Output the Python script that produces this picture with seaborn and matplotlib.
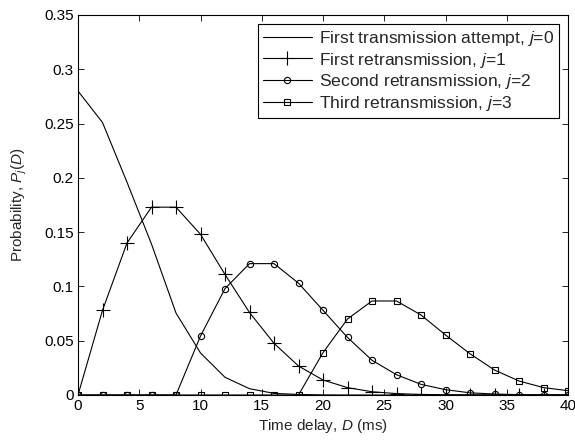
import numpy as np
import pandas as pd
import matplotlib
matplotlib.use("Agg")
import matplotlib.pyplot as plt
import seaborn as sns
from matplotlib.ticker import FuncFormatter

delay = [0, 2, 4, 6, 8, 10, 12, 14, 16, 18, 20, 22, 24, 26, 28, 30, 32, 34, 36, 38, 40]
p_j0 = [0.280, 0.251, 0.196, 0.139, 0.0755, 0.0387, 0.0163, 0.0058, 0.0015, 0.0005, 0.0001,
        0, 0, 0, 0, 0, 0, 0, 0, 0, 0]
p_j1 = [0.0, 0.078, 0.140, 0.173, 0.173, 0.148, 0.111, 0.076, 0.0476, 0.0267, 0.0138,
        0.0068, 0.003, 0.0013, 0.0005, 0.0002, 0.0001, 0, 0, 0, 0]
p_j2 = [0, 0, 0, 0, 0, 0.0543, 0.098, 0.121, 0.121, 0.103, 0.078, 0.053, 0.032, 0.0187,
        0.0098, 0.0049, 0.002, 0.0009, 0.0003, 0.0001, 0]
p_j3 = [0, 0, 0, 0, 0, 0, 0, 0, 0, 0, 0.039, 0.070, 0.0866, 0.0866, 0.0737, 0.0553,
        0.038, 0.023, 0.0129, 0.0068, 0.004]
labels = ["First transmission attempt, $j$=0",
          "First retransmission, $j$=1",
          "Second retransmission, $j$=2",
          "Third retransmission, $j$=3"]

sns.set_style("ticks")
plt.rcParams['font.family'] = ['Liberation Sans', 'DejaVu Sans']
plt.rcParams['mathtext.fontset'] = 'custom'
plt.rcParams['mathtext.it'] = 'Liberation Sans:italic'
plt.rcParams['mathtext.rm'] = 'Liberation Sans'

fig = plt.figure(figsize=(5.75, 4.41), dpi=100)
ax = fig.add_axes([78/575, 1-395/441, (568-78)/575, (395-15)/441])

styles = [dict(marker=None),
          dict(marker='+', markersize=10, markeredgewidth=0.8),
          dict(marker='o', markersize=4.5, markerfacecolor='none', markeredgewidth=0.8),
          dict(marker='s', markersize=4.5, markerfacecolor='none', markeredgewidth=0.8)]
for vals, lab, st in zip([p_j0, p_j1, p_j2, p_j3], labels, styles):
    df = pd.DataFrame({"D": delay, "P": vals})
    sns.lineplot(data=df, x="D", y="P", ax=ax, color='black', linewidth=0.8,
                 label=lab, markeredgecolor='black', **st)

ax.set_xlim(0, 40)
ax.set_ylim(0, 0.35)
ax.set_xticks(np.arange(0, 41, 5))
ax.set_yticks(np.arange(0, 0.351, 0.05))
ax.yaxis.set_major_formatter(FuncFormatter(lambda v, p: ('%.2f' % v).rstrip('0').rstrip('.') if v else '0'))
ax.tick_params(direction='in', top=True, right=True, labelsize=11, length=4, width=0.6,
               colors='black', pad=3)
for s in ax.spines.values():
    s.set_linewidth(0.8)
    s.set_color('black')
ax.set_xlabel("Time delay, $D$ (ms)", fontsize=11, labelpad=3)
ax.set_ylabel("Probability, $P_j(D)$", fontsize=11, labelpad=11)

leg = ax.legend(loc='upper right', fontsize=12.6, frameon=True, fancybox=False,
                edgecolor='black', framealpha=1, borderaxespad=0.5, handlelength=2.8,
                handletextpad=0.4, labelspacing=0.15, borderpad=0.3)
leg.get_frame().set_linewidth(0.8)

fig.savefig("out.png", dpi=100)
